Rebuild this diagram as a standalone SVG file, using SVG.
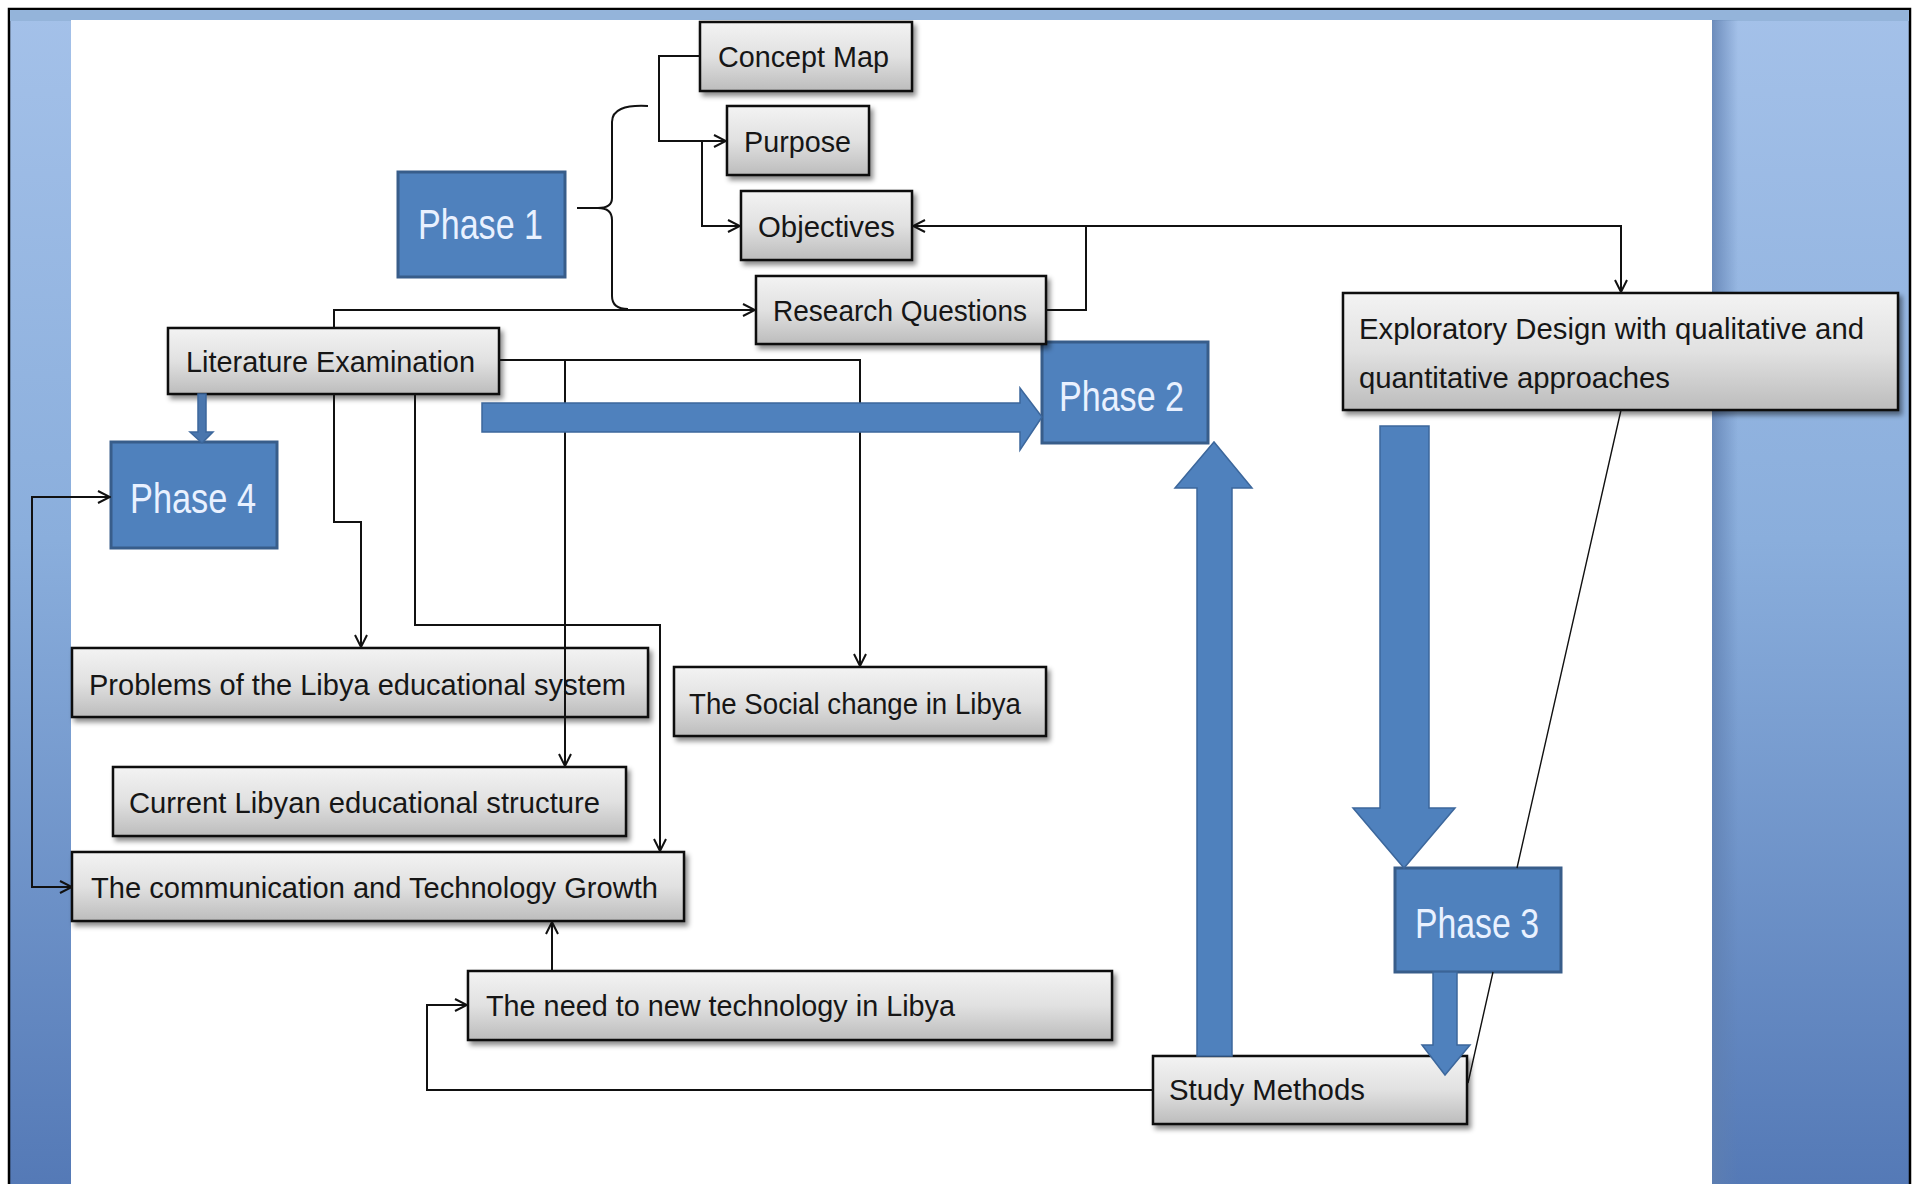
<svg xmlns="http://www.w3.org/2000/svg" width="1914" height="1184" viewBox="0 0 1914 1184">
<defs>
  <linearGradient id="gbox" x1="0" y1="0" x2="0" y2="1">
    <stop offset="0" stop-color="#f3f3f3"/>
    <stop offset="0.5" stop-color="#e1e1e1"/>
    <stop offset="1" stop-color="#bcbcbc"/>
  </linearGradient>
  <linearGradient id="gside" x1="0" y1="0" x2="0" y2="1">
    <stop offset="0" stop-color="#a4c1e9"/>
    <stop offset="0.45" stop-color="#8aaedc"/>
    <stop offset="1" stop-color="#5479b6"/>
  </linearGradient>
  <linearGradient id="gshade" x1="0" y1="0" x2="1" y2="0">
    <stop offset="0" stop-color="#5f7fb0" stop-opacity="0.8"/>
    <stop offset="1" stop-color="#5f7fb0" stop-opacity="0"/>
  </linearGradient>
  <filter id="sh" x="-10%" y="-20%" width="125%" height="160%">
    <feDropShadow dx="3" dy="4" stdDeviation="2.5" flood-color="#000" flood-opacity="0.45"/>
  </filter>
  <marker id="ah" viewBox="0 0 14 14" refX="13" refY="7" markerWidth="14" markerHeight="14" markerUnits="userSpaceOnUse" orient="auto-start-reverse">
    <path d="M1,1 L13,7 L1,13" fill="none" stroke="#111" stroke-width="2"/>
  </marker>
  <style>
    .gb { fill: url(#gbox); stroke: #111; stroke-width: 2.5; filter: url(#sh); }
    .pb { fill: #4f81bd; stroke: #385d8a; stroke-width: 3; }
    .gt { font-family: "Liberation Sans", Arial, sans-serif; font-size: 30px; fill: #161616; }
    .pt { font-family: "Liberation Sans", Arial, sans-serif; font-size: 42px; fill: #e9f1ff; }
    .cn { fill: none; stroke: #111; stroke-width: 2; }
    .cna { fill: none; stroke: #111; stroke-width: 2; marker-end: url(#ah); }
    .blk { fill: #4f81bd; stroke: #3c679c; stroke-width: 1.5; }
  </style>
</defs>

<!-- background -->
<rect x="0" y="0" width="1914" height="1184" fill="#ffffff"/>
<rect x="9" y="9" width="1901" height="1180" fill="url(#gside)" stroke="#000" stroke-width="2.5"/>
<rect x="10" y="10" width="1899" height="11" fill="#94b4da"/>
<rect x="1712" y="20" width="26" height="1164" fill="url(#gshade)"/>
<rect x="71" y="20" width="1641" height="1164" fill="#ffffff"/>

<!-- nodes -->
<g id="phase1"><rect class="pb" x="398" y="172" width="167" height="105"/><text class="pt" x="418" y="239" textLength="125" lengthAdjust="spacingAndGlyphs">Phase 1</text></g>
<g id="phase2"><rect class="pb" x="1042" y="342" width="166" height="101"/><text class="pt" x="1059" y="411" textLength="125" lengthAdjust="spacingAndGlyphs">Phase 2</text></g>
<g id="phase3"><rect class="pb" x="1395" y="868" width="166" height="104"/><text class="pt" x="1415" y="938" textLength="124" lengthAdjust="spacingAndGlyphs">Phase 3</text></g>
<g id="phase4"><rect class="pb" x="111" y="442" width="166" height="106"/><text class="pt" x="130" y="513" textLength="126" lengthAdjust="spacingAndGlyphs">Phase 4</text></g>

<g id="concept-map"><rect class="gb" x="700" y="22" width="212" height="69"/><text class="gt" x="718" y="67" textLength="171" lengthAdjust="spacingAndGlyphs">Concept Map</text></g>
<g id="purpose"><rect class="gb" x="727" y="106" width="142" height="69"/><text class="gt" x="744" y="152" textLength="107" lengthAdjust="spacingAndGlyphs">Purpose</text></g>
<g id="objectives"><rect class="gb" x="741" y="191" width="171" height="69"/><text class="gt" x="758" y="237" textLength="137" lengthAdjust="spacingAndGlyphs">Objectives</text></g>
<g id="research-questions"><rect class="gb" x="756" y="276" width="290" height="68"/><text class="gt" x="773" y="321" textLength="254" lengthAdjust="spacingAndGlyphs">Research Questions</text></g>
<g id="literature-examination"><rect class="gb" x="168" y="328" width="331" height="66"/><text class="gt" x="186" y="372" textLength="289" lengthAdjust="spacingAndGlyphs">Literature Examination</text></g>
<g id="exploratory-design"><rect class="gb" x="1343" y="293" width="555" height="117"/><text class="gt" x="1359" y="339" textLength="505" lengthAdjust="spacingAndGlyphs">Exploratory Design with qualitative and</text><text class="gt" x="1359" y="388" textLength="311" lengthAdjust="spacingAndGlyphs">quantitative approaches</text></g>
<g id="problems"><rect class="gb" x="72" y="648" width="576" height="69"/><text class="gt" x="89" y="695" textLength="537" lengthAdjust="spacingAndGlyphs">Problems of the Libya educational system</text></g>
<g id="social-change"><rect class="gb" x="674" y="667" width="372" height="69"/><text class="gt" x="689" y="714" textLength="332" lengthAdjust="spacingAndGlyphs">The Social change in Libya</text></g>
<g id="current-structure"><rect class="gb" x="113" y="767" width="513" height="69"/><text class="gt" x="129" y="813" textLength="471" lengthAdjust="spacingAndGlyphs">Current Libyan educational structure</text></g>
<g id="communication"><rect class="gb" x="72" y="852" width="612" height="69"/><text class="gt" x="91" y="898" textLength="567" lengthAdjust="spacingAndGlyphs">The communication and Technology Growth</text></g>
<g id="need-technology"><rect class="gb" x="468" y="971" width="644" height="69"/><text class="gt" x="486" y="1016" textLength="469" lengthAdjust="spacingAndGlyphs">The need to new technology in Libya</text></g>
<g id="study-methods"><rect class="gb" x="1153" y="1056" width="314" height="68"/><text class="gt" x="1169" y="1100" textLength="196" lengthAdjust="spacingAndGlyphs">Study Methods</text></g>

<!-- connectors -->
<g id="connectors">
  <path class="cna" d="M700,56 H659 V141 H726"/>
  <path class="cna" d="M702,141 V226 H740"/>
  <path class="cn" d="M648,106 Q612,104 612,122 V198 Q612,208 598,208 H577 M598,208 Q612,208 612,220 V296 Q612,309 628,309"/>
  <path class="cna" d="M334,328 V310 H755"/>
  <path class="cn" d="M1046,310 H1086 V226"/>
  <path class="cna" d="M1086,226 H913"/>
  <path class="cna" d="M1086,226 H1621 V292"/>
  <path class="cna" d="M334,394 V522 H361 V647"/>
  <path class="cna" d="M415,394 V625 H660 V851"/>
  <path class="cna" d="M499,360 H860 V666"/>
  <path class="cna" d="M565,360 V766"/>
  <path class="cna" d="M552,971 V922"/>
  <path class="cna" d="M1153,1090 H427 V1005 H467"/>
  <path class="cna" d="M110,497 H32 V887 H72" style="marker-start:url(#ah)"/>
  <path fill="none" stroke="#111" stroke-width="1.4" d="M1621,410 L1517,868 M1493,972 L1468,1083"/>
  <polygon class="blk" points="482,403 1020,403 1020,388 1042,417 1020,450 1020,432 482,432"/>
  <polygon class="blk" points="1197,1056 1197,488 1175,488 1214,442 1252,488 1232,488 1232,1056"/>
  <polygon class="blk" points="1380,426 1429,426 1429,808 1455,808 1404,868 1353,808 1380,808"/>
  <polygon class="blk" points="1433,972 1457,972 1457,1045 1470,1045 1445,1075 1422,1045 1433,1045"/>
  <polygon class="blk" points="198,394 206,394 206,432 213,432 202,443 190,432 198,432" style="fill:#4a76ad"/>
</g>
</svg>
